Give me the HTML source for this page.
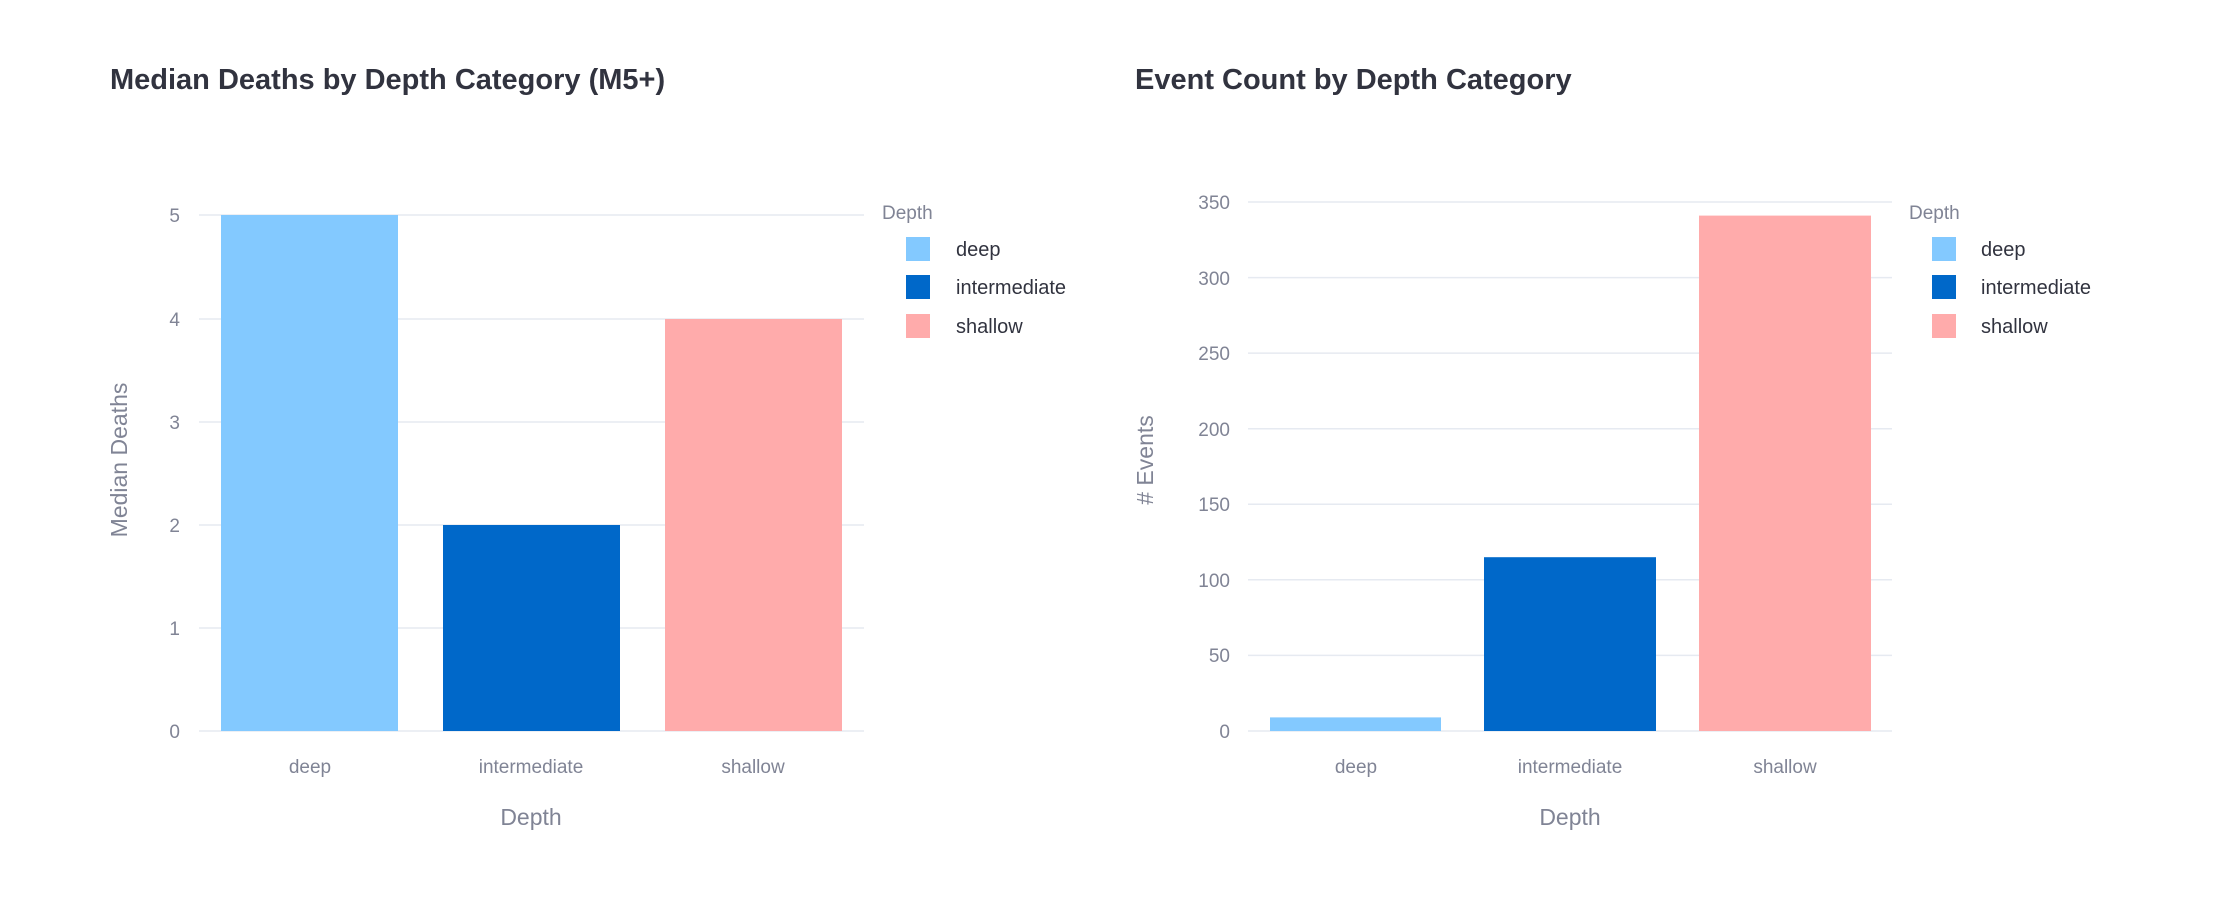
<!DOCTYPE html>
<html><head><meta charset="utf-8"><style>
html,body{margin:0;padding:0;background:#fff;}
svg{display:block;font-family:"Liberation Sans",sans-serif;}
.t{font-size:29px;font-weight:bold;fill:#31333f;}
.tk{font-size:19px;fill:#808495;}
.at{font-size:23px;fill:#808495;}
.lt{font-size:19px;fill:#808495;}
.ll{font-size:20px;fill:#31333f;}
.g{stroke:#e6eaf1;stroke-width:1.5;}
</style></head><body>
<svg width="2232" height="908" viewBox="0 0 2232 908">
<!-- Left chart -->
<text class="t" x="110" y="89">Median Deaths by Depth Category (M5+)</text>
<g>
<line class="g" x1="199" x2="864" y1="731" y2="731"/>
<line class="g" x1="199" x2="864" y1="628" y2="628"/>
<line class="g" x1="199" x2="864" y1="525" y2="525"/>
<line class="g" x1="199" x2="864" y1="422" y2="422"/>
<line class="g" x1="199" x2="864" y1="319" y2="319"/>
<line class="g" x1="199" x2="864" y1="215" y2="215"/>
</g>
<rect x="221" y="215" width="177" height="516" fill="#83c9ff"/>
<rect x="443" y="525" width="177" height="206" fill="#0068c9"/>
<rect x="665" y="319" width="177" height="412" fill="#ffabab"/>
<g class="tk" text-anchor="end">
<text x="180" y="738">0</text><text x="180" y="635">1</text><text x="180" y="532">2</text>
<text x="180" y="429">3</text><text x="180" y="326">4</text><text x="180" y="222">5</text>
</g>
<g class="tk" text-anchor="middle">
<text x="310" y="773">deep</text><text x="531" y="773">intermediate</text><text x="753" y="773">shallow</text>
</g>
<text class="at" text-anchor="middle" x="531" y="825">Depth</text>
<text class="at" text-anchor="middle" transform="translate(127,460) rotate(-90)">Median Deaths</text>
<text class="lt" x="882" y="219">Depth</text>
<rect x="906" y="237" width="24" height="24" fill="#83c9ff"/>
<rect x="906" y="275" width="24" height="24" fill="#0068c9"/>
<rect x="906" y="314" width="24" height="24" fill="#ffabab"/>
<text class="ll" x="956" y="256">deep</text>
<text class="ll" x="956" y="294">intermediate</text>
<text class="ll" x="956" y="333">shallow</text>

<!-- Right chart -->
<text class="t" x="1135" y="89">Event Count by Depth Category</text>
<g>
<line class="g" x1="1248" x2="1892" y1="731" y2="731"/>
<line class="g" x1="1248" x2="1892" y1="655.4" y2="655.4"/>
<line class="g" x1="1248" x2="1892" y1="579.8" y2="579.8"/>
<line class="g" x1="1248" x2="1892" y1="504.3" y2="504.3"/>
<line class="g" x1="1248" x2="1892" y1="428.7" y2="428.7"/>
<line class="g" x1="1248" x2="1892" y1="353.1" y2="353.1"/>
<line class="g" x1="1248" x2="1892" y1="277.6" y2="277.6"/>
<line class="g" x1="1248" x2="1892" y1="202" y2="202"/>
</g>
<rect x="1270" y="717.4" width="171" height="13.6" fill="#83c9ff"/>
<rect x="1484" y="557.2" width="172" height="173.8" fill="#0068c9"/>
<rect x="1699" y="215.6" width="172" height="515.4" fill="#ffabab"/>
<g class="tk" text-anchor="end">
<text x="1230" y="738">0</text><text x="1230" y="662">50</text><text x="1230" y="587">100</text>
<text x="1230" y="511">150</text><text x="1230" y="436">200</text><text x="1230" y="360">250</text>
<text x="1230" y="285">300</text><text x="1230" y="209">350</text>
</g>
<g class="tk" text-anchor="middle">
<text x="1356" y="773">deep</text><text x="1570" y="773">intermediate</text><text x="1785" y="773">shallow</text>
</g>
<text class="at" text-anchor="middle" x="1570" y="825">Depth</text>
<text class="at" text-anchor="middle" transform="translate(1153,460) rotate(-90)"># Events</text>
<text class="lt" x="1909" y="219">Depth</text>
<rect x="1932" y="237" width="24" height="24" fill="#83c9ff"/>
<rect x="1932" y="275" width="24" height="24" fill="#0068c9"/>
<rect x="1932" y="314" width="24" height="24" fill="#ffabab"/>
<text class="ll" x="1981" y="256">deep</text>
<text class="ll" x="1981" y="294">intermediate</text>
<text class="ll" x="1981" y="333">shallow</text>
</svg>
</body></html>
